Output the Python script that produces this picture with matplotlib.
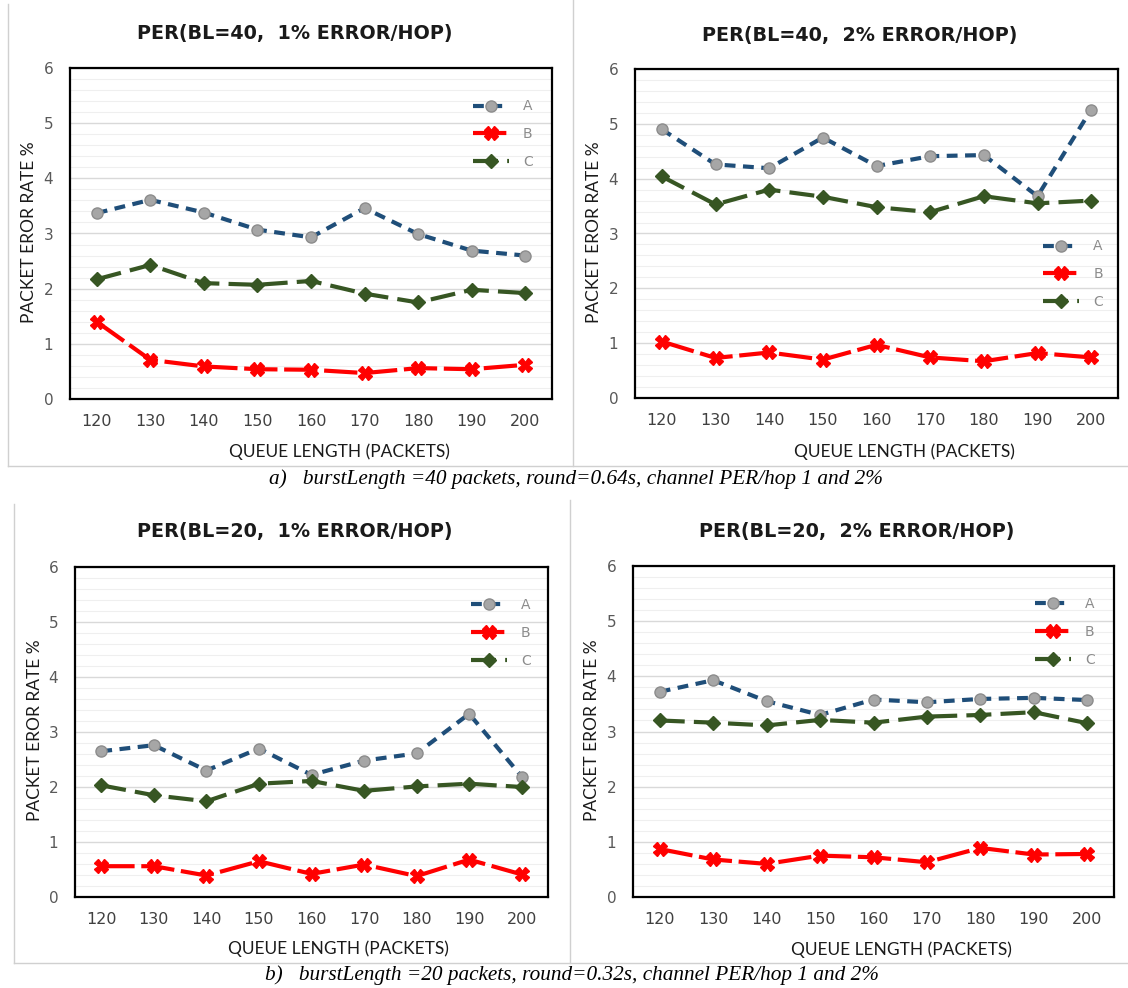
import matplotlib
matplotlib.use("Agg")
import matplotlib.pyplot as plt
from matplotlib.lines import Line2D

W, H = 1128, 988

queue = ["120", "130", "140", "150", "160", "170", "180", "190", "200"]

# PER values (%), one list per scheme and scenario
bl40_1_A = [3.37, 3.61, 3.38, 3.07, 2.93, 3.46, 2.99, 2.69, 2.60]
bl40_1_B = [1.40, 0.71, 0.59, 0.54, 0.53, 0.47, 0.56, 0.54, 0.62]
bl40_1_C = [2.17, 2.43, 2.10, 2.07, 2.14, 1.91, 1.75, 1.98, 1.92]

bl40_2_A = [4.90, 4.26, 4.19, 4.75, 4.23, 4.41, 4.43, 3.68, 5.26]
bl40_2_B = [1.03, 0.73, 0.83, 0.70, 0.97, 0.74, 0.67, 0.82, 0.74]
bl40_2_C = [4.04, 3.53, 3.80, 3.67, 3.48, 3.39, 3.68, 3.55, 3.60]

bl20_1_A = [2.65, 2.76, 2.30, 2.70, 2.22, 2.48, 2.61, 3.33, 2.19]
bl20_1_B = [0.56, 0.56, 0.39, 0.65, 0.42, 0.59, 0.38, 0.68, 0.41]
bl20_1_C = [2.03, 1.85, 1.74, 2.06, 2.11, 1.93, 2.01, 2.06, 2.00]

bl20_2_A = [3.72, 3.93, 3.55, 3.30, 3.58, 3.53, 3.59, 3.61, 3.57]
bl20_2_B = [0.87, 0.68, 0.60, 0.75, 0.72, 0.63, 0.89, 0.77, 0.78]
bl20_2_C = [3.20, 3.16, 3.11, 3.21, 3.16, 3.27, 3.30, 3.35, 3.15]

titles = ["PER(BL=40,  1% ERROR/HOP)", "PER(BL=40,  2% ERROR/HOP)",
          "PER(BL=20,  1% ERROR/HOP)", "PER(BL=20,  2% ERROR/HOP)"]
captions = ["a)   burstLength =40 packets, round=0.64s, channel PER/hop 1 and 2%",
            "b)   burstLength =20 packets, round=0.32s, channel PER/hop 1 and 2%"]

panels = [
    dict(data=(bl40_1_A, bl40_1_B, bl40_1_C), box=(70, 68, 552, 399),
         title=(295, 33), ylab=(29, 232), xlab=(339, 452), leg=(0.836, 0.905)),
    dict(data=(bl40_2_A, bl40_2_B, bl40_2_C), box=(635, 69, 1118, 398),
         title=(860, 35), ylab=(594, 232), xlab=(904, 452), leg=(0.845, 0.482)),
    dict(data=(bl20_1_A, bl20_1_B, bl20_1_C), box=(75, 567, 548, 897),
         title=(295, 532), ylab=(35, 730), xlab=(338, 949), leg=(0.837, 0.906)),
    dict(data=(bl20_2_A, bl20_2_B, bl20_2_C), box=(633, 566, 1114, 897),
         title=(857, 532), ylab=(592, 730), xlab=(901, 950), leg=(0.836, 0.906)),
]

styles = [
    dict(label="A", color="#1f4e79", dashes=(2.6, 1.8), marker="o", ms=8,
         mfc="#a6a6a6", mec="#8c8c8c"),
    dict(label="B", color="#ff0000", dashes=(8, 1.6), marker="X", ms=10,
         mfc="#ff0000", mec="#ff0000"),
    dict(label="C", color="#375623", dashes=(6, 2.2), marker="D", ms=7,
         mfc="#375623", mec="#375623"),
]

fig = plt.figure(figsize=(W / 100, H / 100), dpi=100)
fig.patch.set_facecolor("white")


def fx(x):
    return x / W


def fy(y):
    return 1 - y / H


# light frames around the chart panels
frame = dict(color="#d0d0d0", lw=1.0)
fig.add_artist(Line2D([fx(8), fx(8)], [fy(4), fy(466)], **frame))
fig.add_artist(Line2D([fx(573), fx(573)], [fy(0), fy(466)], **frame))
fig.add_artist(Line2D([fx(8), fx(1128)], [fy(466), fy(466)], **frame))
fig.add_artist(Line2D([fx(14), fx(14)], [fy(504), fy(963)], **frame))
fig.add_artist(Line2D([fx(570), fx(570)], [fy(500), fy(963)], **frame))
fig.add_artist(Line2D([fx(14), fx(1128)], [fy(963), fy(963)], **frame))

x = list(range(len(queue)))

for p, title in zip(panels, titles):
    l, t, r, b = p["box"]
    ax = fig.add_axes([fx(l), fy(b), (r - l) / W, (b - t) / H])
    ax.set_xlim(-0.5, len(queue) - 0.5)
    ax.set_ylim(0, 6)
    ax.set_yticks(range(7))
    ax.set_yticks([i * 0.2 for i in range(31)], minor=True)
    ax.set_xticks(x)
    ax.set_xticklabels(queue)
    ax.grid(axis="y", which="major", color="#d9d9d9", lw=1.0)
    ax.grid(axis="y", which="minor", color="#efefef", lw=0.8)
    ax.set_axisbelow(True)
    ax.tick_params(axis="both", which="both", length=0)
    ax.tick_params(axis="y", pad=12, labelsize=11, labelcolor="#595959")
    ax.tick_params(axis="x", pad=11, labelsize=11.5, labelcolor="#404040")
    for s in ax.spines.values():
        s.set_linewidth(1.6)
        s.set_color("black")

    for vals, st in zip(p["data"], styles):
        ax.plot(x, vals, color=st["color"], lw=3.0, dashes=st["dashes"],
                marker=st["marker"], markersize=st["ms"],
                markerfacecolor=st["mfc"], markeredgecolor=st["mec"],
                markeredgewidth=1.0, label=st["label"])

    ax.legend(loc="upper left", bbox_to_anchor=p["leg"], frameon=False,
              borderpad=0, borderaxespad=0, handlelength=2.6,
              handletextpad=1.0, labelspacing=1.0, fontsize=10,
              labelcolor="#8c8c8c", numpoints=1)

    fig.text(fx(p["title"][0]), fy(p["title"][1]), title, ha="center",
             va="center", fontsize=13.8, fontweight="bold", color="#1a1a1a")
    fig.text(fx(p["ylab"][0]), fy(p["ylab"][1]), "PACKET EROR RATE %",
             rotation=90, ha="center", va="center", fontsize=12.5,
             family="Lato", color="#1a1a1a")
    fig.text(fx(p["xlab"][0]), fy(p["xlab"][1]), "QUEUE LENGTH (PACKETS)",
             ha="center", va="center", fontsize=12.5, family="Lato",
             color="#1a1a1a")

fig.text(fx(269), fy(479), captions[0], ha="left", va="center",
         fontsize=15.3, family="Liberation Serif", style="italic")
fig.text(fx(265), fy(975), captions[1], ha="left", va="center",
         fontsize=15.3, family="Liberation Serif", style="italic")

fig.savefig("out.png", dpi=100, facecolor="white")
